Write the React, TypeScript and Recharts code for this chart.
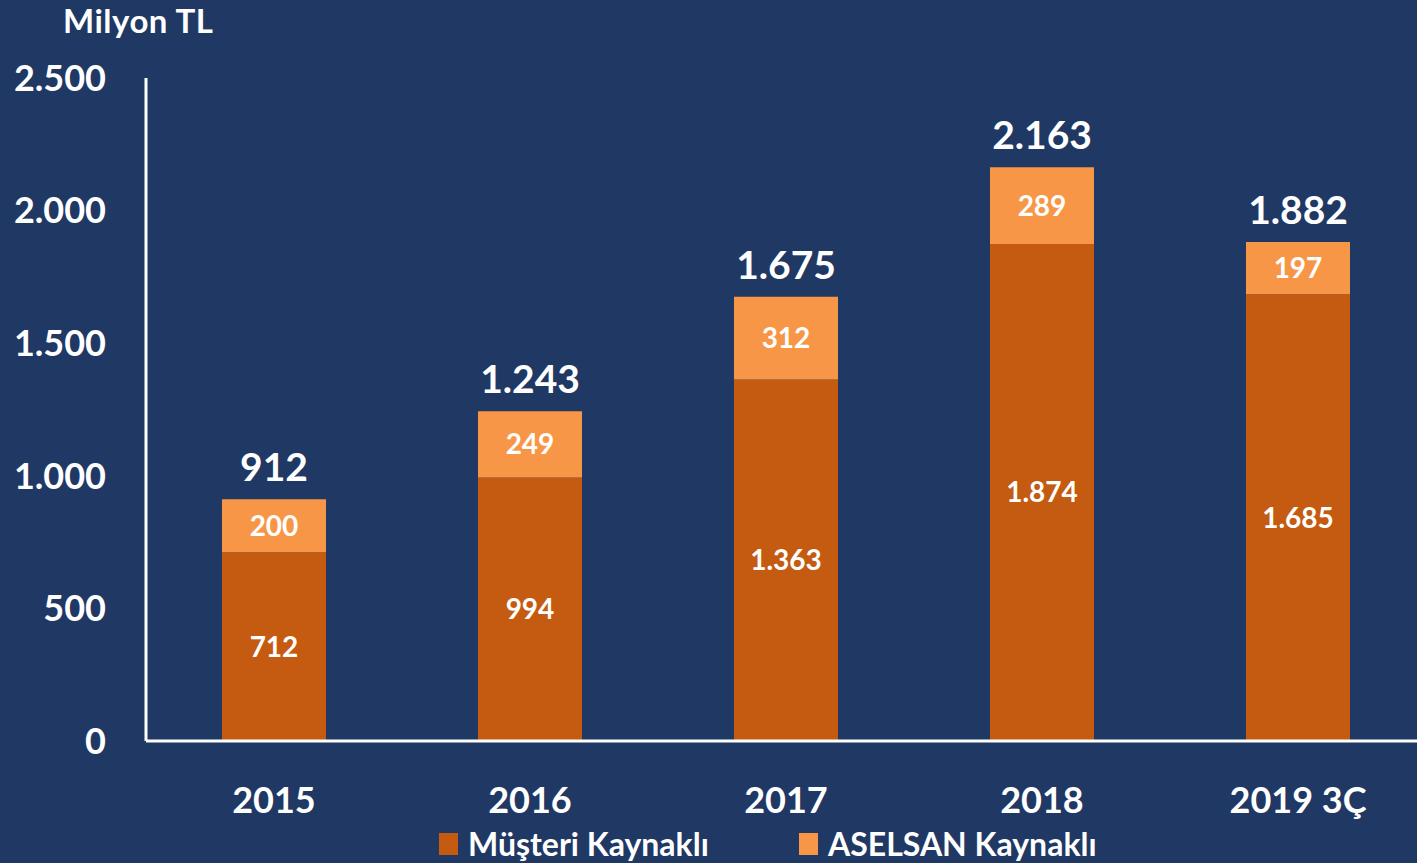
import { Bar, BarChart, LabelList, XAxis, YAxis } from 'recharts';

const years = ['2015', '2016', '2017', '2018', '2019 3Ç'];
const musteri = [712, 994, 1363, 1874, 1685];
const aselsan = [200, 249, 312, 289, 197];
const yTicks = [0, 500, 1000, 1500, 2000, 2500];

const BG = '#203864';
const DARK = '#C55A11';
const LIGHT = '#F79646';
const FONT = 'Lato, "Open Sans", sans-serif';

const data = years.map((year, i) => ({
  year,
  musteri: musteri[i],
  aselsan: aselsan[i],
  total: musteri[i] + aselsan[i],
}));

// 1234 -> "1.234"
const fmt = (v: number) => String(v).replace(/\B(?=(\d{3})+(?!\d))/g, '.');

function LegendBox() {
  const items = [
    { label: 'Müşteri Kaynaklı', color: DARK, width: 360 },
    { label: 'ASELSAN Kaynaklı', color: LIGHT, width: 300 },
  ];
  return (
    <div style={{ position: 'absolute', left: 439, top: 826, display: 'flex' }}>
      {items.map((it) => (
        <div key={it.label} style={{ display: 'flex', alignItems: 'center', width: it.width }}>
          <span style={{ width: 19, height: 22, background: it.color, marginRight: 10 }} />
          <span style={{ color: '#fff', fontSize: 32, fontWeight: 700, fontFamily: FONT, lineHeight: '36px' }}>
            {it.label}
          </span>
        </div>
      ))}
    </div>
  );
}

export default function App() {
  return (
    <div
      style={{
        position: 'absolute',
        left: 0,
        top: 0,
        width: 1417,
        height: 863,
        overflow: 'hidden',
        background: BG,
      }}
    >
      <div
        style={{
          position: 'absolute',
          left: 63,
          top: 0,
          color: '#fff',
          fontFamily: FONT,
          fontWeight: 700,
          fontSize: 33,
          letterSpacing: 0.5,
          lineHeight: 'normal',
        }}
      >
        Milyon TL
      </div>
      <BarChart
        width={1426}
        height={863}
        data={data}
        margin={{ top: 78, right: 0, left: 0, bottom: 92 }}
        style={{ fontFamily: FONT }}
      >
        <YAxis
          type="number"
          domain={[0, 2500]}
          ticks={yTicks}
          width={146}
          tickLine={false}
          tickSize={0}
          tickMargin={40}
          axisLine={{ stroke: '#fff', strokeWidth: 3 }}
          tickFormatter={fmt}
          tick={{ fill: '#fff', fontSize: 36, fontWeight: 700 }}
        />
        <XAxis
          dataKey="year"
          height={30}
          tickLine={false}
          tickSize={0}
          tickMargin={46}
          axisLine={{ stroke: '#fff', strokeWidth: 3 }}
          tick={{ fill: '#fff', fontSize: 36, fontWeight: 700 }}
        />
        <Bar dataKey="musteri" stackId="a" fill={DARK} barSize={104} isAnimationActive={false}>
          <LabelList
            dataKey="musteri"
            position="center"
            formatter={(v: number) => fmt(v)}
            fill="#fff"
            fontSize={28}
            fontWeight={700}
          />
        </Bar>
        <Bar dataKey="aselsan" stackId="a" fill={LIGHT} barSize={104} isAnimationActive={false}>
          <LabelList
            dataKey="aselsan"
            position="center"
            formatter={(v: number) => fmt(v)}
            fill="#fff"
            fontSize={28}
            fontWeight={700}
          />
          <LabelList
            dataKey="total"
            position="top"
            offset={18}
            formatter={(v: number) => fmt(v)}
            fill="#fff"
            fontSize={39}
            fontWeight={700}
          />
        </Bar>
      </BarChart>
      <LegendBox />
    </div>
  );
}
